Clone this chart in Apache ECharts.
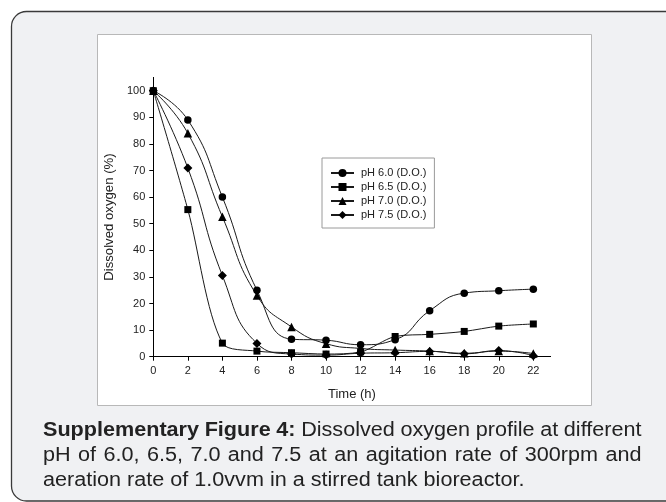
<!DOCTYPE html>
<html>
<head>
<meta charset="utf-8">
<script src="https://cdn.jsdelivr.net/npm/echarts@6/dist/echarts.min.js"></script>
<style>
html,body{margin:0;padding:0;background:#ffffff;}
#c{width:666px;height:502px;}
</style>
</head>
<body>
<div id="c"></div>
<script>
const hours = [0, 2, 4, 6, 8, 10, 12, 14, 16, 18, 20, 22];
const ph60 = [100, 89, 60, 25, 6.6, 6.2, 4.5, 6.4, 17.3, 23.9, 24.8, 25.4];
const ph65 = [100, 55.3, 5.1, 2.1, 1.5, 1.0, 1.8, 7.6, 8.4, 9.5, 11.5, 12.3];
const ph70 = [100, 84, 52.6, 23, 11.2, 4.9, 3.1, 2.5, 2.1, 1.3, 2.1, 1.2];
const ph75 = [100, 70.9, 30.5, 5.0, 1.0, 0.6, 1.3, 1.5, 2.0, 1.1, 2.3, 0.4];
const seriesNames = ['pH 6.0 (D.O.)', 'pH 6.5 (D.O.)', 'pH 7.0 (D.O.)', 'pH 7.5 (D.O.)'];
const xTicks = [0, 2, 4, 6, 8, 10, 12, 14, 16, 18, 20, 22];
const yTicks = [0, 10, 20, 30, 40, 50, 60, 70, 80, 90, 100];
const xTitle = 'Time (h)';
const yTitle = 'Dissolved oxygen (%)';
const captionBold = 'Supplementary Figure 4:';
const captionLines = [
  'Dissolved oxygen profile at different',
  'pH of 6.0, 6.5, 7.0 and 7.5 at an agitation rate of 300rpm and',
  'aeration rate of 1.0vvm in a stirred tank bioreactor.'
];

const FONT = '"Liberation Sans", Arial, sans-serif';
const chart = echarts.init(document.getElementById('c'), null, {renderer: 'canvas'});

function pairs(vals) { return hours.map((h, i) => [h, vals[i]]); }

// caption layout (justified lines 1 and 2)
const capFont = 20;
const capScaleX = 1.08;
const ctx = document.createElement('canvas').getContext('2d');
function w(txt, bold) { ctx.font = (bold ? 'bold ' : '') + capFont + 'px "Liberation Sans", Arial, sans-serif'; return ctx.measureText(txt).width * capScaleX; }
const capLeft = 43, capRight = 641.5;
const capY = [430, 455, 480];
const graphics = [];
// outer frame
graphics.push({type: 'rect', shape: {x: 11.5, y: 11.5, width: 700, height: 489.5, r: 15}, style: {fill: '#f0f1f3', stroke: '#3a3a3a', lineWidth: 1.3}, z: -10});
// white figure panel
graphics.push({type: 'rect', shape: {x: 97.5, y: 34.5, width: 494, height: 371}, style: {fill: '#ffffff', stroke: '#b8b8b8', lineWidth: 1}, z: -9});
captionLines.forEach((line, li) => {
  const words = [];
  if (li === 0) { captionBold.split(' ').forEach(t => words.push({t, b: true})); }
  line.split(' ').forEach(t => words.push({t, b: false}));
  const total = words.reduce((s, o) => s + w(o.t, o.b), 0);
  const justify = li < 2;
  const gap = justify ? (capRight - capLeft - total) / (words.length - 1) : w(' ', false);
  let x = capLeft;
  words.forEach(o => {
    graphics.push({type: 'text', x: x, y: capY[li], scaleX: capScaleX, style: {text: o.t, font: (o.b ? 'bold ' : '') + capFont + 'px ' + FONT, fill: '#222222', verticalAlign: 'middle', align: 'left'}, z: 5});
    x += w(o.t, o.b) + gap;
  });
});

const mk = (name, vals, symbol, size, smooth) => ({
  name, type: 'line', data: pairs(vals), symbol, symbolSize: size, smooth,
  lineStyle: {color: '#1a1a1a', width: 1}, itemStyle: {color: '#000000'},
  emphasis: {disabled: true}, animation: false, z: 3
});

chart.setOption({
  animation: false,
  backgroundColor: 'transparent',
  textStyle: {fontFamily: FONT},
  graphic: graphics,
  grid: {left: 153.3, right: 115.4, top: 77.4, bottom: 145.3, containLabel: false},
  legend: {
    orient: 'vertical', left: 322, top: 158,
    backgroundColor: '#ffffff', borderColor: '#9a9a9a', borderWidth: 1,
    padding: [9, 8, 7, 8], itemWidth: 23, itemHeight: 10, itemGap: 2,
    textStyle: {fontSize: 11, color: '#222', lineHeight: 12, padding: [0, 0, 0, 2], fontFamily: FONT},
    data: seriesNames
  },
  xAxis: {
    type: 'value', min: 0, max: 23, interval: 1,
    name: xTitle, nameLocation: 'middle', nameGap: 31,
    nameTextStyle: {fontSize: 13, color: '#222', fontFamily: FONT},
    axisLine: {show: true, onZero: false, lineStyle: {color: '#000', width: 1}},
    axisTick: {show: true, inside: false, length: 4, customValues: xTicks, lineStyle: {color: '#000'}},
    axisLabel: {customValues: xTicks, fontSize: 11, color: '#222', margin: 9, fontFamily: FONT},
    splitLine: {show: false}
  },
  yAxis: {
    type: 'value', min: 0, max: 105, interval: 5,
    name: yTitle, nameLocation: 'middle', nameGap: 35, nameRotate: 90,
    nameTextStyle: {fontSize: 13.2, color: '#222', fontFamily: FONT},
    axisLine: {show: true, onZero: false, lineStyle: {color: '#000', width: 1}},
    axisTick: {show: true, inside: false, length: 4, customValues: yTicks, lineStyle: {color: '#000'}},
    axisLabel: {customValues: yTicks, fontSize: 11, color: '#222', margin: 8, fontFamily: FONT},
    splitLine: {show: false}
  },
  series: [
    mk(seriesNames[0], ph60, 'circle', 7.5, 0.5),
    mk(seriesNames[1], ph65, 'rect', 7, 0.3),
    mk(seriesNames[2], ph70, 'triangle', 8.5, 0.5),
    mk(seriesNames[3], ph75, 'diamond', 9, 0.5)
  ]
});
</script>
</body>
</html>
